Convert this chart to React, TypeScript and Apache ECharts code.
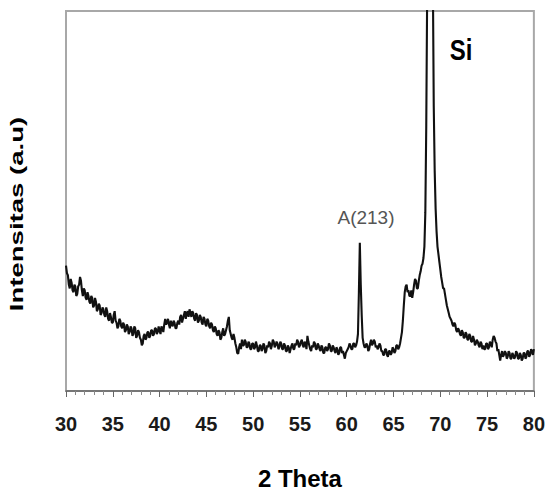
import React, { useEffect, useRef } from "react";
import * as echarts from "echarts";

// 2-theta sampling of the scan (degrees)
const thetaStart = 30;
const thetaStep = 0.1;

// Intensity (a.u.), one row per degree: x.0 ... x.9
const intensity: number[] = [
  33.0, 31.0, 30.5, 28.0, 27.0, 29.5, 28.5, 26.5, 26.0, 28.0, // 30
  27.5, 25.0, 25.5, 27.5, 28.0, 30.0, 29.0, 26.5, 25.0, 27.0, // 31
  26.5, 24.5, 24.0, 26.0, 25.0, 23.5, 23.0, 25.0, 24.5, 22.0, // 32
  22.5, 24.5, 23.5, 21.0, 21.5, 23.0, 22.5, 20.0, 20.5, 22.0, // 33
  21.5, 20.0, 19.5, 22.0, 21.0, 19.0, 18.5, 20.5, 19.5, 18.0, // 34
  18.0, 20.0, 21.0, 18.5, 18.0, 16.5, 17.0, 19.0, 18.5, 17.0, // 35
  16.5, 18.0, 17.5, 15.5, 16.0, 17.5, 17.0, 15.0, 15.5, 17.0, // 36
  16.5, 14.5, 15.0, 17.0, 16.5, 14.0, 14.5, 16.0, 15.5, 14.0, // 37
  13.5, 12.0, 12.5, 14.5, 15.0, 13.5, 14.0, 15.5, 15.5, 14.0, // 38
  14.5, 16.0, 16.0, 14.5, 15.0, 16.5, 16.5, 15.0, 15.5, 17.0, // 39
  16.0, 15.0, 17.0, 16.5, 15.5, 17.5, 19.0, 17.5, 18.0, 19.0, // 40
  17.5, 16.5, 18.5, 17.5, 17.0, 18.5, 18.0, 16.5, 16.5, 18.0, // 41
  18.5, 17.5, 19.5, 20.0, 18.0, 19.0, 20.0, 21.0, 19.0, 20.5, // 42
  21.0, 19.5, 21.5, 20.5, 19.5, 21.0, 20.5, 19.0, 18.5, 20.5, // 43
  20.0, 18.0, 18.5, 20.0, 19.5, 18.0, 17.5, 19.5, 19.0, 17.5, // 44
  17.0, 19.0, 18.5, 17.0, 16.5, 18.0, 17.5, 16.0, 15.5, 17.0, // 45
  16.5, 15.0, 14.5, 16.0, 15.5, 13.5, 14.0, 15.5, 16.5, 14.5, // 46
  15.0, 16.0, 17.0, 18.5, 19.5, 16.0, 15.0, 14.0, 13.5, 15.0, // 47
  14.0, 12.5, 11.5, 10.0, 9.8, 11.5, 12.5, 11.0, 13.5, 12.0, // 48
  12.0, 13.5, 13.0, 11.5, 11.5, 13.0, 12.5, 11.0, 11.0, 12.5, // 49
  12.5, 11.0, 11.5, 13.0, 12.0, 10.5, 10.5, 12.0, 12.0, 10.5, // 50
  11.0, 12.5, 12.0, 10.0, 10.5, 12.0, 11.5, 13.0, 12.5, 11.0, // 51
  12.0, 13.5, 13.0, 11.5, 12.0, 13.0, 12.5, 11.0, 11.5, 13.0, // 52
  12.5, 11.0, 11.0, 12.5, 12.0, 10.5, 10.5, 12.0, 11.5, 10.0, // 53
  11.0, 12.0, 12.5, 11.0, 11.0, 12.5, 12.0, 13.5, 13.0, 11.5, // 54
  12.0, 13.0, 13.5, 12.0, 11.5, 13.0, 12.5, 11.0, 14.5, 13.0, // 55
  12.0, 11.0, 10.5, 12.0, 11.5, 13.0, 12.5, 11.0, 11.0, 12.5, // 56
  12.0, 11.0, 10.5, 12.0, 11.5, 10.0, 10.0, 11.5, 11.5, 10.5, // 57
  11.0, 12.5, 12.0, 10.5, 10.5, 12.0, 11.5, 10.5, 10.0, 11.5, // 58
  11.0, 9.5, 10.0, 11.5, 11.5, 10.0, 10.5, 9.5, 8.5, 10.0, // 59
  10.5, 11.0, 11.5, 12.5, 12.0, 11.0, 11.0, 12.5, 12.5, 11.5, // 60
  12.0, 13.0, 15.0, 26.0, 39.0, 28.0, 20.0, 14.0, 12.5, 11.5, // 61
  11.5, 12.5, 12.0, 10.5, 11.0, 12.5, 13.5, 12.0, 12.5, 13.5, // 62
  13.0, 11.5, 12.0, 11.0, 11.5, 12.5, 12.0, 10.5, 10.5, 9.5, // 63
  9.5, 11.0, 11.0, 9.5, 9.0, 10.5, 10.5, 9.5, 10.0, 11.5, // 64
  11.0, 10.0, 10.5, 12.0, 12.0, 11.0, 11.5, 12.5, 14.0, 15.5, // 65
  18.5, 22.5, 26.0, 27.5, 28.0, 26.0, 26.5, 25.0, 25.0, 26.5, // 66
  24.5, 26.0, 28.0, 29.5, 29.0, 27.0, 27.0, 29.0, 30.5, 31.5, // 67
  33.0, 33.5, 35.0, 38.0, 47.0, 70.0, 106, 180, 280, 330, // 68
  280, 190, 110, 75.0, 58.0, 48.0, 42.0, 38.0, 36.0, 34.0, // 69
  32.0, 30.0, 28.5, 27.0, 27.0, 25.5, 24.0, 22.5, 21.5, 20.5, // 70
  19.5, 19.0, 18.5, 17.5, 17.0, 18.0, 17.5, 16.0, 15.5, 16.5, // 71
  16.0, 15.0, 14.5, 16.0, 15.5, 14.0, 14.0, 15.5, 15.0, 13.5, // 72
  13.5, 15.0, 14.5, 13.0, 13.0, 14.5, 13.5, 12.0, 12.5, 13.5, // 73
  13.0, 12.0, 11.5, 13.0, 12.5, 11.0, 12.0, 11.0, 11.0, 12.5, // 74
  12.5, 11.0, 11.5, 13.0, 12.5, 11.5, 13.5, 14.5, 14.0, 13.0, // 75
  12.5, 10.5, 11.0, 9.5, 8.0, 9.5, 10.5, 9.0, 9.5, 10.5, // 76
  10.0, 8.5, 9.0, 10.5, 10.0, 8.5, 8.5, 10.0, 9.5, 8.5, // 77
  9.0, 10.5, 10.0, 8.5, 8.5, 10.0, 9.5, 8.0, 8.5, 10.0, // 78
  10.0, 8.5, 9.0, 10.5, 10.5, 9.0, 9.5, 11.0, 10.5, 9.5, // 79
  11.0, // 80
];

const xTickLabels = ["30", "35", "40", "45", "50", "55", "60", "65", "70", "75", "80"];
const xTitle = "2 Theta";
const yTitle = "Intensitas (a.u)";
const peakLabels = ["A(213)", "Si"];

export default function App() {
  const ref = useRef<HTMLDivElement>(null);

  useEffect(() => {
    if (!ref.current) return;
    const chart = echarts.init(ref.current, undefined, { renderer: "svg" });
    const data = intensity.map((v, i) => [
      Math.round((thetaStart + i * thetaStep) * 10) / 10,
      v,
    ]);
    chart.setOption({
      animation: false,
      backgroundColor: "#ffffff",
      grid: {
        left: 66,
        right: 8,
        top: 11,
        bottom: 101,
        show: true,
        borderColor: "#a8a8a8",
        borderWidth: 2,
        backgroundColor: "transparent",
      },
      xAxis: {
        type: "value",
        min: 30,
        max: 80,
        interval: 5,
        axisLine: { show: true, onZero: false, lineStyle: { color: "#666", width: 1.5 } },
        axisTick: { show: true, inside: false, length: 6, lineStyle: { color: "#666", width: 1 } },
        minorTick: { show: true, splitNumber: 5, length: 4, lineStyle: { color: "#888", width: 1 } },
        splitLine: { show: false },
        minorSplitLine: { show: false },
        axisLabel: {
          margin: 23,
          fontSize: 20,
          fontWeight: "bold",
          color: "#1a1a1a",
          fontFamily: '"Liberation Sans Narrow", "Liberation Sans", Arial, sans-serif',
          formatter: (v: number) => {
            const idx = Math.round((v - 30) / 5);
            return xTickLabels[idx] ?? String(v);
          },
        },
        name: xTitle,
        nameLocation: "middle",
        nameGap: 75,
        nameTextStyle: {
          fontSize: 24,
          fontWeight: "bold",
          color: "#000",
          fontFamily: '"Liberation Sans", Arial, sans-serif',
        },
      },
      yAxis: {
        type: "value",
        min: 0,
        max: 100,
        axisLine: { show: false },
        axisTick: { show: false },
        axisLabel: { show: false },
        splitLine: { show: false },
      },
      graphic: [
        {
          type: "text",
          x: 17,
          y: 214,
          rotation: Math.PI / 2,
          scaleX: 1.45,
          style: {
            text: yTitle,
            font: 'bold 19px "Liberation Sans", Arial, sans-serif',
            fill: "#000",
            align: "center",
            verticalAlign: "middle",
          },
        },
        {
          type: "text",
          x: 366,
          y: 217,
          style: {
            text: peakLabels[0],
            font: '19px "Liberation Sans", Arial, sans-serif',
            fill: "#555",
            align: "center",
            verticalAlign: "middle",
          },
        },
        {
          type: "text",
          x: 461,
          y: 50,
          scaleY: 1.25,
          style: {
            text: peakLabels[1],
            font: 'bold 24px "Liberation Sans", Arial, sans-serif',
            fill: "#000",
            align: "center",
            verticalAlign: "middle",
          },
        },
      ],
      series: [
        {
          type: "line",
          data,
          showSymbol: false,
          clip: true,
          lineStyle: { color: "#111", width: 2.1 },
          z: 3,
        },
      ],
    });
    return () => chart.dispose();
  }, []);

  return (
    <div
      ref={ref}
      style={{ position: "fixed", left: 0, top: 0, width: 548, height: 495 }}
    />
  );
}
